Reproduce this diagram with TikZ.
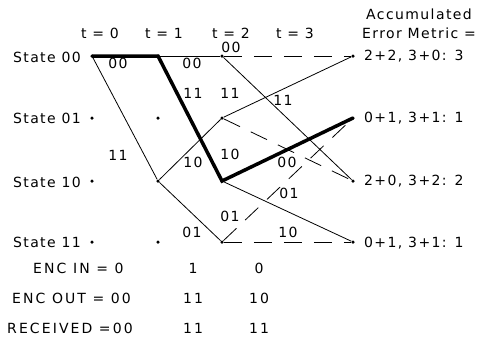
\documentclass[tikz,border=0pt]{standalone}
\usepackage{fontspec}
\newfontfamily\trellisfont[LetterSpace=10]{DejaVu Sans}
\newfontfamily\widefont[LetterSpace=15]{DejaVu Sans}
\usetikzlibrary{positioning}

\begin{document}
\begin{tikzpicture}[
  x=1pt, y=-1pt,
  dot/.style={circle, fill, inner sep=0pt, minimum size=3.5pt},
  txt/.style={inner sep=0pt, font=\trellisfont\fontsize{14}{16}\selectfont},
  bottom/.style={inner sep=0pt, font=\widefont\fontsize{14}{16}\selectfont},
  branch/.style={line width=0.8pt},
  unused/.style={line width=0.8pt, dash pattern=on 18pt off 12pt},
  best/.style={line width=3.5pt, line join=miter}
]
  \useasboundingbox (0,0) rectangle (485,341);

  % Time steps
  \node[txt] (t0) at (100,33) {t = 0};
  \node[txt] (t1) at (164,33) {t = 1};
  \node[txt] (t2) at (231,33) {t = 2};
  \node[txt] (t3) at (295,33) {t = 3};
  \node[txt] (acc) at (419,14) {Accumulated};
  \node[txt] (err) at (419,33) {Error Metric =};

  % States
  \node[txt, anchor=east] (st00) at (81,57) {State 00};
  \node[txt, anchor=east] (st01) at (81,118) {State 01};
  \node[txt, anchor=east] (st10) at (81,182) {State 10};
  \node[txt, anchor=east] (st11) at (81,242) {State 11};

  % Trellis points
  \node[dot] (a00) at (92,56) {};
  \node[dot] (a01) at (92,118) {};
  \node[dot] (a10) at (92,181) {};
  \node[dot] (a11) at (92,242) {};
  \node[dot] (b00) at (158,56) {};
  \node[dot] (b01) at (158,118) {};
  \node[dot] (b10) at (158,181) {};
  \node[dot] (b11) at (158,242) {};
  \node[dot] (c00) at (222,56) {};
  \node[dot] (c01) at (222,118) {};
  \node[dot] (c10) at (222,181) {};
  \node[dot] (c11) at (222,242) {};
  \node[dot] (d00) at (353,56) {};
  \node[dot] (d01) at (353,118) {};
  \node[dot] (d10) at (353,181) {};
  \node[dot] (d11) at (353,242) {};

  % Branches
  \draw[branch] (b00) -- (c00);
  \draw[branch] (a00) -- (b10);
  \draw[branch] (b10) -- (c01);
  \draw[branch] (b10) -- (c11);
  \draw[branch] (c00) -- (d10);
  \draw[branch] (c01) -- (d00);
  \draw[branch] (c10) -- (d11);
  \draw[unused] (c00) -- (d00);
  \draw[unused] (c01) -- (d10);
  \draw[unused] (c11) -- (d01);
  \draw[unused] (c11) -- (d11);

  % Survivor path
  \draw[best] (a00.center) -- (b00.center) -- (c10.center) -- (d01.center);

  % Branch outputs
  \node[txt] (o1) at (118,63) {00};
  \node[txt] (o2) at (192,63) {00};
  \node[txt] (o3) at (231,47) {00};
  \node[txt] (o4) at (193,93) {11};
  \node[txt] (o5) at (230,93) {11};
  \node[txt] (o6) at (283,100) {11};
  \node[txt] (o7) at (118,155) {11};
  \node[txt] (o8) at (193,162) {10};
  \node[txt] (o9) at (230,154) {10};
  \node[txt] (o10) at (287,162) {00};
  \node[txt] (o11) at (289,193) {01};
  \node[txt] (o12) at (230,216) {01};
  \node[txt] (o13) at (192,232) {01};
  \node[txt] (o14) at (288,232) {10};

  % Metrics
  \node[txt, anchor=west] (m00) at (364,56) {2+2, 3+0: 3};
  \node[txt, anchor=west] (m01) at (364,118) {0+1, 3+1: 1};
  \node[txt, anchor=west] (m10) at (364,181) {2+0, 3+2: 2};
  \node[txt, anchor=west] (m11) at (364,243) {0+1, 3+1: 1};

  % Encoder rows
  \node[bottom, anchor=west] (encin) at (33,268) {ENC IN = 0};
  \node[bottom] (in1) at (193,268) {1};
  \node[bottom] (in2) at (259,268) {0};
  \node[bottom, anchor=west] (encout) at (12,298) {ENC OUT = 00};
  \node[bottom] (out1) at (193,298) {11};
  \node[bottom] (out2) at (259,298) {10};
  \node[bottom, anchor=west] (recv) at (7,328) {RECEIVED =00};
  \node[bottom] (rx1) at (193,328) {11};
  \node[bottom] (rx2) at (259,328) {11};
\end{tikzpicture}
\end{document}
